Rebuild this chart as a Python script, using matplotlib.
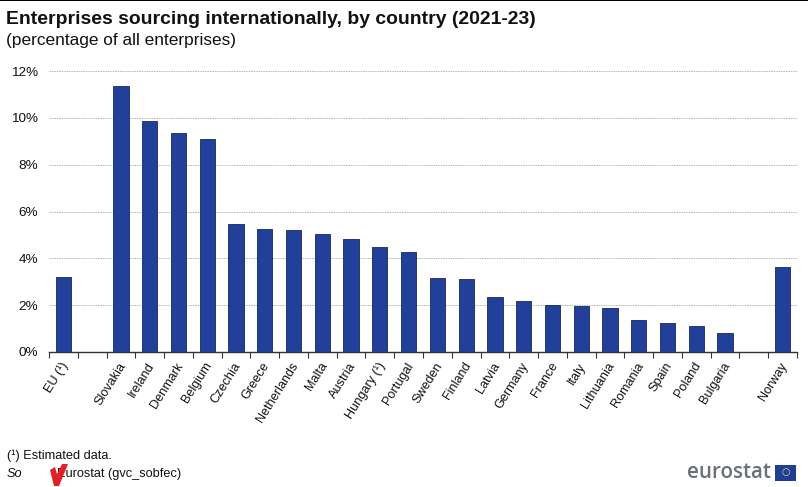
"""Enterprises sourcing internationally, by country (2021-23)."""

import matplotlib

matplotlib.use("Agg")
import matplotlib.pyplot as plt
from matplotlib.patches import Polygon, Rectangle
from matplotlib.ticker import FuncFormatter

countries = [
    "EU (¹)", "", "Slovakia", "Ireland", "Denmark", "Belgium", "Czechia", "Greece",
    "Netherlands", "Malta", "Austria", "Hungary (¹)", "Portugal", "Sweden", "Finland",
    "Latvia", "Germany", "France", "Italy", "Lithuania", "Romania", "Spain", "Poland",
    "Bulgaria", "", "Norway",
]
shares = [
    3.2, 0, 11.35, 9.85, 9.35, 9.08, 5.45, 5.27, 5.22, 5.03, 4.82, 4.47, 4.27,
    3.18, 3.12, 2.35, 2.18, 2.0, 1.97, 1.87, 1.35, 1.22, 1.1, 0.8, 0, 3.65,
]
y_ticks = [0, 2, 4, 6, 8, 10, 12]

WIDTH, HEIGHT = 808, 487
BAR_BLUE = "#22409a"
BAR_EDGE = "#14275f"

plt.rcParams["font.family"] = ["Liberation Sans", "DejaVu Sans"]

fig = plt.figure(figsize=(WIDTH / 100, HEIGHT / 100), dpi=100)
ax = fig.add_axes([49 / WIDTH, 1 - 352 / HEIGHT, (797 - 49) / WIDTH, (352 - 71) / HEIGHT])

positions = list(range(len(countries)))
ax.bar(positions, shares, width=0.53, color=BAR_BLUE, edgecolor=BAR_EDGE, linewidth=0.6, zorder=3)

ax.set_xlim(-0.5, len(countries) - 0.5)
ax.set_ylim(0, 12)
ax.set_yticks(y_ticks)
ax.yaxis.set_major_formatter(FuncFormatter(lambda v, _: f"{v:.0f}%"))
ax.grid(axis="y", color="#b4b4b4", linestyle=(0, (1.5, 1)), linewidth=0.7, zorder=0)
ax.set_axisbelow(True)

for side in ("top", "right", "left"):
    ax.spines[side].set_visible(False)
ax.spines["bottom"].set_color("#333333")
ax.spines["bottom"].set_linewidth(1.0)

ax.set_xticks([p - 0.5 for p in positions] + [len(countries) - 0.5])
ax.set_xticklabels([])
ax.tick_params(axis="x", length=4, width=0.8, color="#333333")
ax.tick_params(axis="y", length=0, labelsize=9.7, pad=8, labelcolor="#111111")

for pos, name in zip(positions, countries):
    if name:
        ax.annotate(
            name, xy=(pos, 0), xycoords=("data", "axes fraction"),
            xytext=(-2, -6), textcoords="offset points",
            rotation=58, rotation_mode="anchor", ha="right", va="top",
            fontsize=9.1, color="#111111",
        )


def px(x, y):
    return x / WIDTH, 1 - y / HEIGHT


# top rule of the frame
fig.add_artist(Rectangle(px(0, 1), 1, 1 / HEIGHT, transform=fig.transFigure, color="black", lw=0))

fig.text(*px(6, 19), "Enterprises sourcing internationally, by country (2021-23)",
         fontsize=13.95, fontweight="bold", va="center", color="#111111")
fig.text(*px(6, 40), "(percentage of all enterprises)", fontsize=12.4, va="center", color="#111111")

fig.text(*px(7, 456), "(¹) Estimated data.", fontsize=9.2, va="center", color="#111111")
fig.text(*px(7, 474), "Source:", fontsize=9.2, style="italic", va="center", color="#111111")
fig.text(*px(57, 474), "Eurostat (gvc_sobfec)", fontsize=9.2, va="center", color="#111111")

# scribbled-over part of the source line
fig.add_artist(Polygon([px(22, 466), px(57, 466), px(57, 484), px(22, 484)],
                       transform=fig.transFigure, color="white", lw=0, zorder=5))
fig.add_artist(Polygon([px(50, 470), px(55, 467), px(57, 474), px(62, 464), px(68, 464), px(59, 486), px(54, 486)],
                       transform=fig.transFigure, color="#e0202a", lw=0, zorder=6))

# logo
fig.text(*px(687, 473), "eurostat", fontsize=14.8, fontweight="semibold", va="center", color="#6b7078",
         family=["Open Sans", "DejaVu Sans"])
fig.add_artist(Rectangle(px(775, 481), 21 / WIDTH, 16 / HEIGHT, transform=fig.transFigure,
                         color="#1f3f94", lw=0))
fig.text(*px(785.5, 472.5), "○", fontsize=7, ha="center", va="center", color="#e8d86a",
         family=["DejaVu Sans"])

fig.savefig("out.png", dpi=100)
plt.close(fig)
